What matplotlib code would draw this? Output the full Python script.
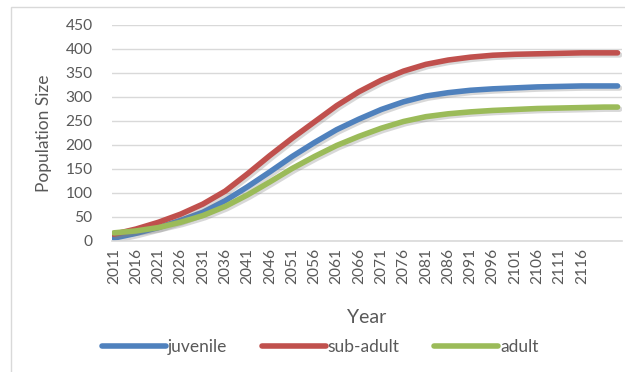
import matplotlib
matplotlib.use("Agg")
import matplotlib.pyplot as plt
import matplotlib.patheffects as pe
from matplotlib.patches import Rectangle

plt.rcParams['font.family'] = ['Lato', 'DejaVu Sans']

years = [2011, 2016, 2021, 2026, 2031, 2036, 2041, 2046, 2051, 2056, 2061,
         2066, 2071, 2076, 2081, 2086, 2091, 2096, 2101, 2106, 2111, 2116,
         2121, 2124]
juvenile = [6, 16, 28, 43, 60, 84, 113, 144, 176, 205, 232, 254, 274, 290,
            302, 309, 314, 317, 319, 321, 322, 323, 323, 323]
sub_adult = [14, 25, 39, 56, 77, 104, 140, 178, 214, 248, 282, 311, 335, 354,
             368, 377, 383, 387, 389, 390, 391, 392, 392, 392]
adult = [17, 21, 28, 39, 53, 72, 96, 123, 151, 176, 199, 218, 235, 249,
         259, 265, 269, 272, 274, 276, 277, 278, 279, 279]
tick_years = list(range(2011, 2117, 5))

fig = plt.figure(figsize=(6.25, 3.72), dpi=100)
ax = fig.add_axes([112 / 625, 1 - 241 / 372, 510 / 625, 216 / 372])

# light frame around the whole chart
fig.patches.append(Rectangle((11 / 625, -5 / 372), 640 / 625, 370 / 372,
                             transform=fig.transFigure, fill=False,
                             edgecolor='#D9D9D9', linewidth=1))

shadow = [pe.SimpleLineShadow(offset=(1.5, -1.5), shadow_color='gray', alpha=0.3),
          pe.Normal()]
series = [("juvenile", juvenile, '#4F81BD'),
          ("sub-adult", sub_adult, '#C0504D'),
          ("adult", adult, '#9BBB59')]
for name, vals, col in series:
    ax.plot(years, vals, color=col, linewidth=4, solid_capstyle='round',
            label=name, path_effects=shadow)

ax.set_xlim(2010.6, 2125)
ax.set_ylim(0, 450)
ax.set_yticks(range(0, 451, 50))
ax.set_xticks(tick_years)
ax.set_xticklabels([str(y) for y in tick_years], rotation=90)
ax.tick_params(axis='both', length=0, labelsize=11.2, colors='#595959')
ax.tick_params(axis='y', pad=14)
ax.tick_params(axis='x', pad=5)
ax.grid(axis='y', color='#D9D9D9', linewidth=1)
ax.set_axisbelow(True)
for s in ['top', 'right', 'left']:
    ax.spines[s].set_visible(False)
ax.spines['bottom'].set_color('#D9D9D9')
ax.spines['bottom'].set_linewidth(1.2)

ax.set_ylabel("Population Size", fontsize=12.5, color='#595959', labelpad=10)
ax.set_xlabel("Year", fontsize=14, color='#595959', labelpad=18)

leg = fig.legend(loc='center', bbox_to_anchor=(320 / 625, 1 - 347 / 372),
                 ncol=3, frameon=False, fontsize=12.5, handlelength=3.7,
                 handletextpad=0.1, columnspacing=2.0)
for t in leg.get_texts():
    t.set_color('#595959')
for h in leg.get_lines():
    h.set_path_effects([])
    h.set_linewidth(4)

fig.savefig("out.png", dpi=100)
